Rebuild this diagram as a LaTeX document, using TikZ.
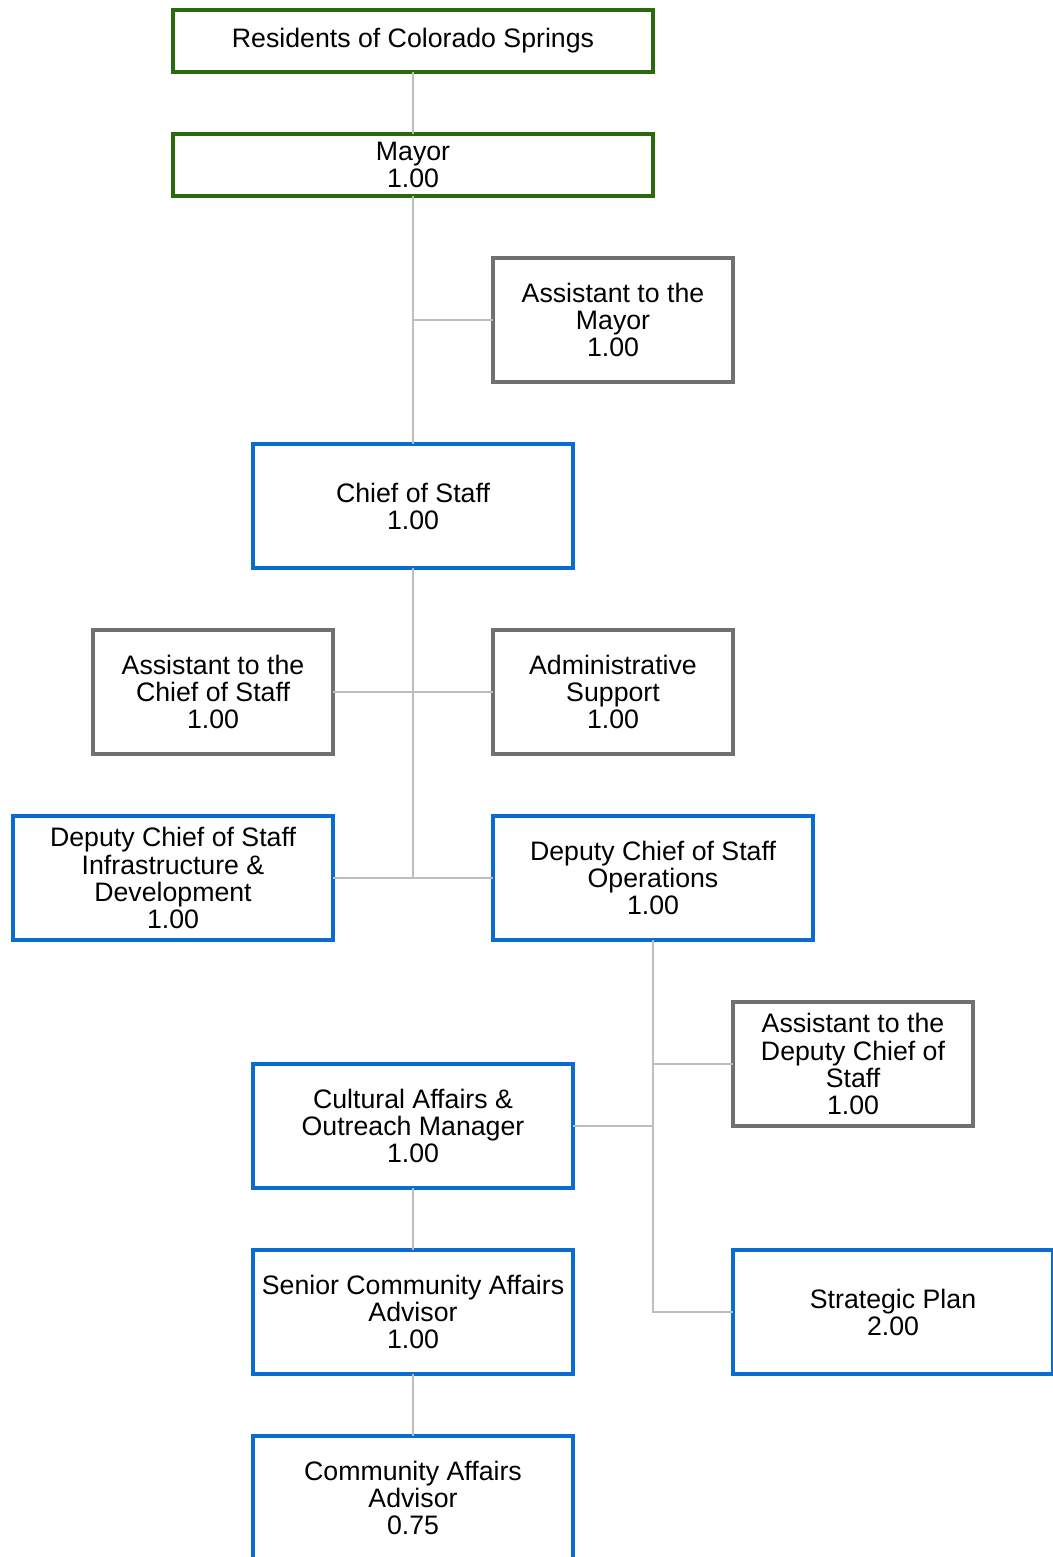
\documentclass[tikz,border=0pt]{standalone}
\usepackage{fontspec}
\setmainfont{Liberation Sans}
\definecolor{orggreen}{HTML}{2B6A0C}
\definecolor{orgblue}{HTML}{0A6BD0}
\definecolor{orggray}{HTML}{707070}
\definecolor{linkgray}{HTML}{BDBDBD}
\begin{document}
\begin{tikzpicture}[x=0.02cm, y=-0.02cm,
  every node/.style={font=\fontsize{15.2}{15.4}\selectfont},
  box/.style={draw, line width=2pt, fill=white, inner sep=0pt, outer sep=0pt, align=center, minimum height=2.48cm},
  topbox/.style={box, draw=orggreen, minimum width=9.6cm, minimum height=1.24cm},
  bluebox/.style={box, draw=orgblue, minimum width=6.4cm},
  graybox/.style={box, draw=orggray, minimum width=4.8cm},
  link/.style={draw=linkgray, line width=1.2pt}]
\useasboundingbox (0,0) rectangle (1053,1557);
\node[topbox] (res) at (413,41) {Residents of Colorado Springs};
\node[topbox] (mayor) at (413,165) {Mayor\\1.00};
\node[graybox] (amayor) at (613,320) {Assistant to the\\Mayor\\1.00};
\node[bluebox] (cos) at (413,506) {Chief of Staff\\1.00};
\node[graybox] (acos) at (213,692) {Assistant to the\\Chief of Staff\\1.00};
\node[graybox] (admin) at (613,692) {Administrative\\Support\\1.00};
\node[bluebox] (infra) at (173,878) {Deputy Chief of Staff\\Infrastructure \&\\Development\\1.00};
\node[bluebox] (ops) at (653,878) {Deputy Chief of Staff\\Operations\\1.00};
\node[graybox] (adcos) at (853,1064) {Assistant to the\\Deputy Chief of\\Staff\\1.00};
\node[bluebox] (cult) at (413,1126) {Cultural Affairs \&\\Outreach Manager\\1.00};
\node[bluebox] (senior) at (413,1312) {Senior Community Affairs\\Advisor\\1.00};
\node[bluebox] (plan) at (893,1312) {Strategic Plan\\2.00};
\node[bluebox] (comm) at (413,1498) {Community Affairs\\Advisor\\0.75};
% connectors
\draw[link] (res) -- (mayor);
\draw[link] (mayor) -- (cos);
\draw[link] (amayor.west) -- (amayor.west -| mayor.south);
\draw[link] (cos.south) -- (cos.south |- ops.west);
\draw[link] (acos.east) -- (admin.west);
\draw[link] (infra.east) -- (ops.west);
\draw[link] (ops.south) -- (ops.south |- plan.west) -- (plan.west);
\draw[link] (adcos.west) -- (adcos.west -| ops.south);
\draw[link] (cult.east) -- (cult.east -| ops.south);
\draw[link] (cult) -- (senior);
\draw[link] (senior) -- (comm);
\end{tikzpicture}
\end{document}
